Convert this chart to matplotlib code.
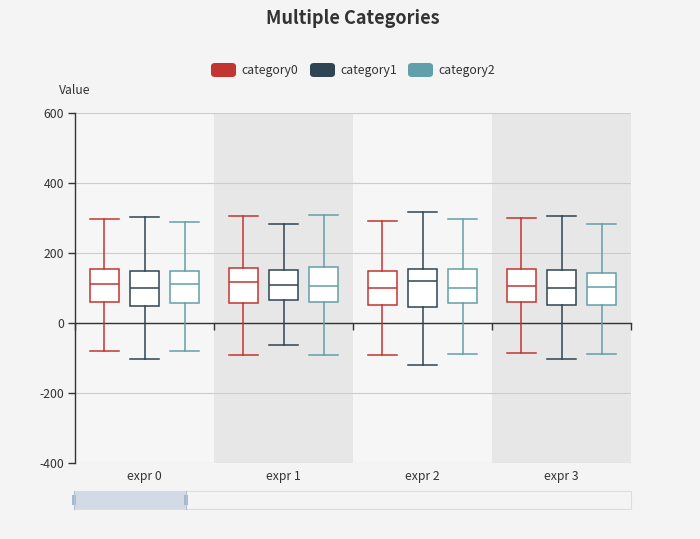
import matplotlib
matplotlib.use("Agg")
import matplotlib.pyplot as plt
from matplotlib.patches import FancyBboxPatch, Rectangle
from matplotlib.lines import Line2D
import matplotlib.transforms as mtransforms

plt.rcParams['font.family'] = ['Noto Sans CJK SC', 'DejaVu Sans']

groups = ["expr 0", "expr 1", "expr 2", "expr 3"]
series = ["category0", "category1", "category2"]
colors = ["#c23531", "#2f4554", "#61a0a8"]

# per series: [low, q1, median, q3, high] for each group
cat0 = [[-81, 60, 111, 154, 296], [-91, 56, 117, 156, 305],
        [-91, 51, 100, 148, 292], [-86, 59, 107, 155, 299]]
cat1 = [[-102, 49, 100, 150, 303], [-63, 67, 109, 152, 282],
        [-119, 45, 120, 153, 318], [-102, 51, 99, 152, 305]]
cat2 = [[-81, 56, 112, 150, 288], [-91, 59, 107, 159, 310],
        [-89, 57, 101, 153, 297], [-88, 51, 104, 144, 282]]
data = [cat0, cat1, cat2]

y_ticks = [-400, -200, 0, 200, 400, 600]

W, H = 700, 539
fig = plt.figure(figsize=(7, 5.39), dpi=100, facecolor="#f4f4f4")

def fx(px):
    return px / W

def fy(py):
    return 1 - py / H

ax = fig.add_axes([fx(75), fy(463), fx(631) - fx(75), fy(113) - fy(463)])
ax.set_facecolor("#f6f6f6")
ax.set_xlim(-0.5, len(groups) - 0.5)
ax.set_ylim(y_ticks[0], y_ticks[-1])

for i in range(len(groups)):
    ax.axvspan(i - 0.5, i + 0.5, color="#f6f6f6" if i % 2 == 0 else "#e7e7e7", zorder=0, lw=0)

for t in y_ticks:
    ax.axhline(t, color="#cccccc", lw=0.8, zorder=1)

offset = 0.288
bw = 0.215
for s, (sd, c) in enumerate(zip(data, colors)):
    stats = []
    for g, v in enumerate(sd):
        stats.append(dict(whislo=v[0], q1=v[1], med=v[2], q3=v[3], whishi=v[4], fliers=[]))
    pos = [g + (s - 1) * offset for g in range(len(groups))]
    ax.bxp(stats, positions=pos, widths=bw, capwidths=bw, patch_artist=True, showfliers=False,
           boxprops=dict(facecolor="white", edgecolor=c, lw=1.1),
           medianprops=dict(color=c, lw=1.1),
           whiskerprops=dict(color=c, lw=1.1),
           capprops=dict(color=c, lw=1.1), manage_ticks=False, zorder=3)

for sp in ["top", "right"]:
    ax.spines[sp].set_visible(False)
ax.spines["left"].set_color("#333333")
ax.spines["left"].set_linewidth(1)
ax.spines["bottom"].set_position(("data", 0))
ax.spines["bottom"].set_color("#333333")
ax.spines["bottom"].set_linewidth(1)
ax.spines["bottom"].set_zorder(2)

ax.set_yticks(y_ticks)
ax.set_yticklabels([str(t) for t in y_ticks], fontsize=8.8, color="#333333")
ax.tick_params(axis="y", length=5, width=1, color="#333333", pad=3)
ax.set_xticks([i - 0.5 for i in range(len(groups) + 1)])
ax.set_xticklabels([])
ax.tick_params(axis="x", length=5, width=1, color="#333333", direction="out")

trans = mtransforms.blended_transform_factory(ax.transData, ax.transAxes)
for i, g in enumerate(groups):
    ax.text(i, -0.038, g, transform=trans, ha="center", va="center", fontsize=8.8, color="#333333")

fig.text(fx(75), fy(91), "Value", ha="center", va="center", fontsize=8.8, color="#333333")
fig.text(fx(353), fy(18), "Multiple Categories", ha="center", va="center", fontsize=13,
         fontweight="bold", color="#333333")

# legend
leg_x = [211, 310, 408]
for x0, name, c in zip(leg_x, series, colors):
    p = FancyBboxPatch((fx(x0), fy(77)), fx(25), fy(63) - fy(77),
                       boxstyle="round,pad=0,rounding_size=0.006",
                       transform=fig.transFigure, facecolor=c, edgecolor="none")
    fig.add_artist(p)
    fig.text(fx(x0 + 30), fy(70.5), name, ha="left", va="center", fontsize=8.8, color="#333333")

# data zoom slider
fig.add_artist(Rectangle((fx(74), fy(509)), fx(631) - fx(74), fy(491) - fy(509),
                         transform=fig.transFigure, facecolor="#f4f4f4", edgecolor="#dddddd", lw=0.8))
fig.add_artist(Rectangle((fx(74), fy(509)), fx(186) - fx(74), fy(491) - fy(509),
                         transform=fig.transFigure, facecolor="#d2dae6", edgecolor="none"))
for hx in [74, 186]:
    fig.add_artist(Line2D([fx(hx), fx(hx)], [fy(509), fy(491)], transform=fig.transFigure,
                          color="#b4c2d4", lw=0.8))
    fig.add_artist(Rectangle((fx(hx - 2), fy(505)), fx(4), fy(495) - fy(505),
                             transform=fig.transFigure, facecolor="#a7b7cc", edgecolor="none"))

fig.savefig("out.png", dpi=100, facecolor=fig.get_facecolor())
